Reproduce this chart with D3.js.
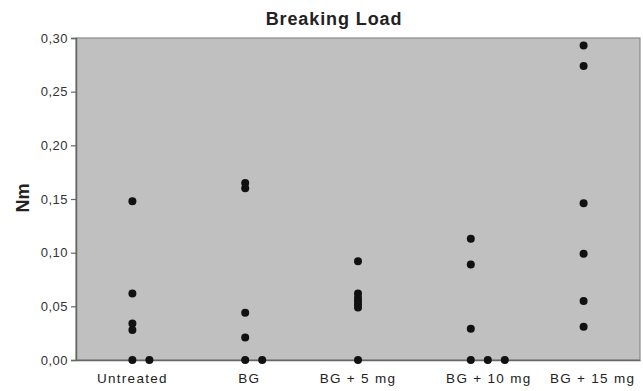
<!DOCTYPE html>
<html><head><meta charset="utf-8">
<script src="https://cdn.jsdelivr.net/npm/d3@7"></script>
<style>body{margin:0;background:#fff;}svg{display:block;font-family:"Liberation Sans",Arial,sans-serif;}</style>
</head><body>
<svg id="c" width="643" height="391"></svg>
<script>
const title = "Breaking Load";
const yLabel = "Nm";
const categories = ["Untreated", "BG", "BG + 5 mg", "BG + 10 mg", "BG + 15 mg"];
const untreated = [0.148, 0.062, 0.034, 0.028, 0, 0];
const bg = [0.165, 0.160, 0.044, 0.021, 0, 0];
const bg5 = [0.092, 0.062, 0.058, 0.055, 0.052, 0.049, 0];
const bg10 = [0.113, 0.089, 0.029, 0, 0, 0];
const bg15 = [0.293, 0.274, 0.146, 0.099, 0.055, 0.031];
const yTicks = [0, 0.05, 0.10, 0.15, 0.20, 0.25, 0.30];
const seriesValues = [untreated, bg, bg5, bg10, bg15];

const m = {l: 76, r: 3, t: 38, b: 31};
const W = 643, H = 391;
const svg = d3.select("#c");
const x = d3.scaleBand().domain(categories).range([m.l, W - m.r]);
const y = d3.scaleLinear().domain([0, 0.30]).range([H - m.b, m.t]);

svg.append("rect").attr("x", m.l).attr("y", m.t)
  .attr("width", W - m.r - m.l).attr("height", H - m.b - m.t)
  .attr("fill", "#c0c0c0").attr("stroke", "#8a8a8a").attr("stroke-width", 1.2);

const fmt = d => d3.format(".2f")(d).replace(".", ",");
const ya = svg.append("g").attr("transform", `translate(${m.l},0)`)
  .call(d3.axisLeft(y).tickValues(yTicks).tickFormat(fmt).tickSize(5).tickPadding(3));
ya.select(".domain").attr("stroke", "#666").attr("stroke-width", 1.5);
ya.selectAll(".tick line").attr("stroke", "#666").attr("stroke-width", 1.2);
ya.selectAll("text").attr("font-size", 13).attr("fill", "#333").attr("letter-spacing", "0.5px");

// label nudges as in the original layout (px)
const labelNudge = [0, 4, 0, 18, 9];
const xa = svg.append("g").attr("transform", `translate(0,${H - m.b})`)
  .call(d3.axisBottom(x).tickSize(0).tickPadding(13));
xa.select(".domain").attr("stroke", "#666").attr("stroke-width", 1.5);
xa.selectAll("text").attr("font-size", 13.5).attr("fill", "#222").attr("letter-spacing", "1.3px")
  .attr("dx", (d, i) => labelNudge[i]);

// points, dodging exact duplicates sideways
const pts = [];
categories.forEach((c, i) => {
  const seen = {};
  seriesValues[i].forEach(v => {
    const k = v.toFixed(4);
    const n = seen[k] || 0; seen[k] = n + 1;
    pts.push({c, v, n});
  });
});
svg.append("g").selectAll("circle").data(pts).join("circle")
  .attr("cx", d => x(d.c) + x.bandwidth() / 2 + d.n * 17)
  .attr("cy", d => y(d.v))
  .attr("r", 4)
  .attr("fill", "#111");

svg.append("text").attr("x", 334).attr("y", 25).attr("text-anchor", "middle")
  .attr("font-size", 18).attr("font-weight", "bold").attr("fill", "#222")
  .attr("letter-spacing", "0.9px").text(title);

svg.append("text").attr("transform", "translate(29,198) rotate(-90)")
  .attr("text-anchor", "middle").attr("font-size", 18).attr("font-weight", "bold")
  .attr("fill", "#222").text(yLabel);
</script>
</body></html>
